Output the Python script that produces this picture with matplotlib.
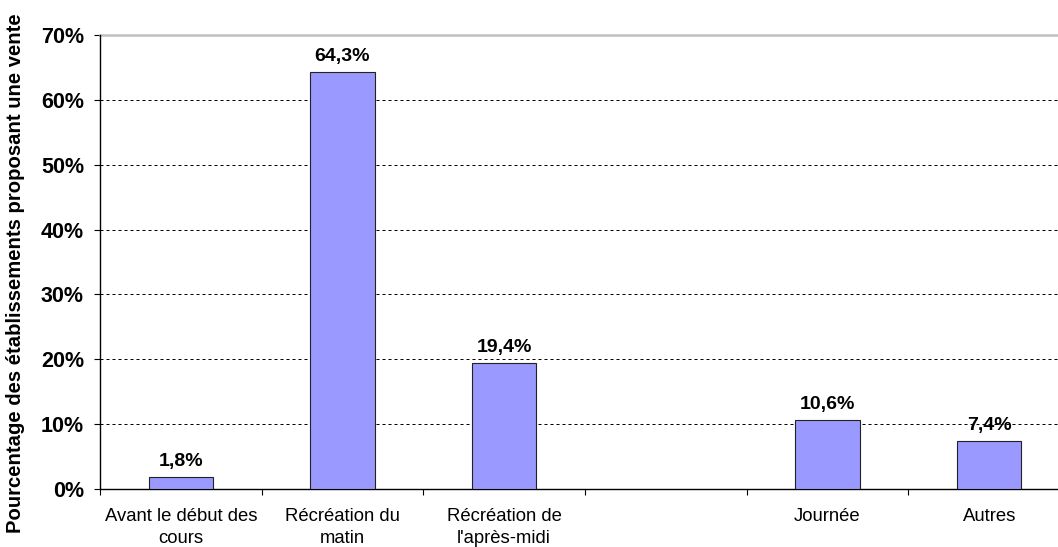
import numpy as np
from matplotlib import pyplot as plt

categories = ["Avant le début des\ncours", "Récréation du\nmatin", "Récréation de\nl'après-midi",
              "", "Journée", "Autres"]
values = [1.8, 64.3, 19.4, np.nan, 10.6, 7.4]
value_labels = ["1,8%", "64,3%", "19,4%", "", "10,6%", "7,4%"]
yticks = [0, 10, 20, 30, 40, 50, 60, 70]

plt.rcParams['font.family'] = ['Liberation Sans', 'DejaVu Sans']

W, H = 1058, 547
fig = plt.figure(figsize=(W / 100, H / 100), dpi=100)
# plot area runs a little past the right edge of the picture, as in the original
ax = fig.add_axes([100 / W, (H - 489) / H, 970 / W, 454 / H])

x = np.arange(len(categories))
ax.bar(x, values, width=0.4, color='#9999ff', edgecolor='#222222', linewidth=0.8, zorder=3)

for xi, v, lab in zip(x, values, value_labels):
    if lab:
        ax.annotate(lab, (xi, v), xytext=(0, 5), textcoords='offset points',
                    ha='center', va='bottom', fontsize=14, fontweight='bold', zorder=4)

ax.set_xlim(-0.5, len(categories) - 0.5)
ax.set_ylim(0, 70)

# dashed grid lines
for t in yticks[1:-1]:
    ax.axhline(t, color='black', linewidth=0.72, linestyle=(0, (3, 3)), zorder=1)
ax.axhline(70, color='#c0c0c0', linewidth=1.8, zorder=2, clip_on=False)

ax.set_yticks(yticks)
ax.set_yticklabels([f"{t}%" for t in yticks], fontsize=15.5, fontweight='bold')
ax.tick_params(axis='y', direction='out', length=4.5, width=0.8, pad=7)

ax.set_xticks(x)
ax.set_xticklabels(categories, fontsize=13.3, linespacing=1.35)
ax.set_xticks(np.arange(len(categories) + 1) - 0.5, minor=True)
ax.tick_params(axis='x', which='major', length=0, pad=14)
ax.tick_params(axis='x', which='minor', direction='out', length=4.5, width=0.8)

for s in ['top', 'right']:
    ax.spines[s].set_visible(False)
ax.spines['left'].set_linewidth(1.0)
ax.spines['bottom'].set_linewidth(1.0)

fig.text(16 / W, 1 - 273 / H, "Pourcentage des établissements proposant une vente",
         rotation=90, ha='center', va='center', fontsize=14.6, fontweight='bold')

fig.savefig('out.png', dpi=100)
